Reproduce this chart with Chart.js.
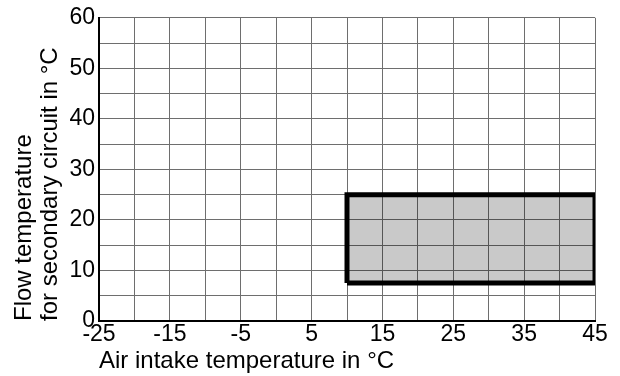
<!DOCTYPE html>
<html>
<head>
<meta charset="utf-8">
<script src="https://cdn.jsdelivr.net/npm/chart.js@4"></script>
<style>
html,body{margin:0;padding:0;background:#fff;}
#wrap{width:620px;height:376px;}
</style>
</head>
<body>
<div id="wrap"><canvas id="c" width="620" height="376"></canvas></div>
<script>
// Axis ranges and labels
const xRange = [-25, 45];
const yRange = [0, 60];
const xTickLabels = [-25, -15, -5, 5, 15, 25, 35, 45];
const yTickLabels = [0, 10, 20, 30, 40, 50, 60];
// Operating range rectangle (air intake / flow temperature)
const rangeAirTemp = [10, 45];
const rangeFlowTemp = [7.5, 25];

const xTitle = 'Air intake temperature in °C';
const yTitle = ['Flow temperature', 'for secondary circuit in °C'];

const boxPoints = [
  {x: rangeAirTemp[0], y: rangeFlowTemp[0]},
  {x: rangeAirTemp[1], y: rangeFlowTemp[0]},
  {x: rangeAirTemp[1], y: rangeFlowTemp[1]},
  {x: rangeAirTemp[0], y: rangeFlowTemp[1]},
  {x: rangeAirTemp[0], y: rangeFlowTemp[0]}
];

const FONT = "'Liberation Sans', Arial, sans-serif";

new Chart(document.getElementById('c'), {
  type: 'scatter',
  data: {
    datasets: [{
      data: boxPoints,
      showLine: true,
      fill: 'shape',
      backgroundColor: 'rgba(0,0,0,0.21)',
      borderColor: '#000',
      borderWidth: 5,
      borderJoinStyle: 'miter',
      pointRadius: 0,
      tension: 0
    }]
  },
  options: {
    responsive: false,
    animation: false,
    devicePixelRatio: 1,
    layout: {padding: {left: 0, right: 25, top: 15, bottom: 0}},
    plugins: {legend: {display: false}, tooltip: {enabled: false}},
    scales: {
      x: {
        type: 'linear',
        min: xRange[0], max: xRange[1],
        afterFit: s => { s.height = 55; },
        ticks: {
          stepSize: 5,
          autoSkip: false,
          maxRotation: 0,
          padding: 0,
          color: '#000',
          font: {family: FONT, size: 23},
          callback: v => xTickLabels.includes(v) ? String(v) : ''
        },
        grid: {color: '#6e6e6e', lineWidth: 1, drawTicks: false},
        border: {color: '#000', width: 2},
        title: {
          display: true, text: xTitle, align: 'start',
          color: '#000', font: {family: FONT, size: 24, lineHeight: 1.2}, padding: {top: 0, bottom: 0}
        }
      },
      y: {
        type: 'linear',
        min: yRange[0], max: yRange[1],
        afterFit: s => { s.width = 99; },
        ticks: {
          stepSize: 5,
          autoSkip: false,
          padding: 4,
          color: '#000',
          font: {family: FONT, size: 23},
          callback: v => yTickLabels.includes(v) ? String(v) : ''
        },
        grid: {color: '#6e6e6e', lineWidth: 1, drawTicks: false},
        border: {color: '#000', width: 2},
        title: {
          display: true, text: yTitle, align: 'start',
          color: '#000', font: {family: FONT, size: 24, lineHeight: 1.1}, padding: {top: 11, bottom: 0}
        }
      }
    }
  }
});
</script>
</body>
</html>
